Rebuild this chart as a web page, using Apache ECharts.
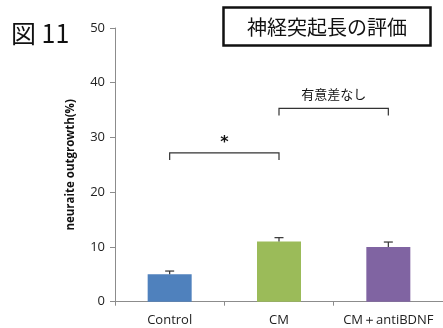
<!DOCTYPE html>
<html>
<head>
<meta charset="utf-8">
<script src="https://cdn.jsdelivr.net/npm/echarts@6/dist/echarts.min.js"></script>
<style>
  html, body { margin: 0; padding: 0; background: #fff; }
  #chart { width: 443px; height: 328px; }
</style>
</head>
<body>
<div id="chart"></div>
<script>
// Groups and mean neurite outgrowth (%) with error (upper bound)
var categories = ['Control', 'CM', 'CM＋antiBDNF'];
var means = [5.0, 11.0, 10.0];
var errorTops = [5.6, 11.7, 10.9];
var barColors = ['#4F81BD', '#9BBB59', '#8064A2'];
var yTicks = [0, 10, 20, 30, 40, 50];

// Significance brackets: [from category, to category, bar height, leg bottom, label]
var bracketFrom = [0, 1];
var bracketTo = [1, 2];
var bracketTop = [27.2, 35.3];
var bracketLeg = [25.9, 34.0];
var bracketLabels = ['*', '有意差なし'];

var chart = echarts.init(document.getElementById('chart'));

var barData = means.map(function (v, i) {
  return { value: v, itemStyle: { color: barColors[i] } };
});
var errData = means.map(function (v, i) { return [i, v, errorTops[i]]; });
var bracketData = bracketFrom.map(function (f, i) {
  return [f, bracketTo[i], bracketTop[i], bracketLeg[i], bracketLabels[i]];
});

chart.setOption({
  animation: false,
  grid: { left: 115, top: 28, width: 330, height: 273.7, containLabel: false },
  xAxis: {
    type: 'category',
    data: categories,
    boundaryGap: true,
    axisLine: { lineStyle: { color: '#8c8c8c', width: 1 } },
    axisTick: { show: true, length: 4, lineStyle: { color: '#8c8c8c' } },
    axisLabel: { color: '#222', fontSize: 13, fontFamily: 'Open Sans', margin: 12, interval: 0, hideOverlap: false }
  },
  yAxis: {
    type: 'value',
    min: yTicks[0],
    max: yTicks[yTicks.length - 1],
    interval: 10,
    name: 'neuraite outgrowth(%)',
    nameLocation: 'middle',
    nameRotate: 90,
    nameGap: 38,
    nameTextStyle: { color: '#111', fontSize: 11.5, fontWeight: 'bold', fontFamily: 'Open Sans' },
    axisLine: { show: true, lineStyle: { color: '#8c8c8c', width: 1 } },
    axisTick: { show: true, length: 5, lineStyle: { color: '#8c8c8c' } },
    axisLabel: { color: '#222', fontSize: 13, fontFamily: 'Open Sans', margin: 10 },
    splitLine: { show: false }
  },
  series: [
    {
      type: 'bar',
      data: barData,
      barWidth: 44,
      itemStyle: { borderWidth: 0 }
    },
    {
      type: 'custom',
      data: errData,
      z: 5,
      renderItem: function (params, api) {
        var base = api.coord([api.value(0), api.value(1)]);
        var top = api.coord([api.value(0), api.value(2)]);
        var half = 4.5;
        var st = { stroke: '#333', lineWidth: 1.2 };
        return {
          type: 'group',
          children: [
            { type: 'line', shape: { x1: base[0], y1: base[1], x2: top[0], y2: top[1] }, style: st },
            { type: 'line', shape: { x1: top[0] - half, y1: top[1], x2: top[0] + half, y2: top[1] }, style: st }
          ]
        };
      }
    },
    {
      type: 'custom',
      data: bracketData,
      z: 5,
      renderItem: function (params, api) {
        var a = api.coord([api.value(0), api.value(2)]);
        var b = api.coord([api.value(1), api.value(2)]);
        var legA = api.coord([api.value(0), api.value(3)]);
        var label = bracketLabels[params.dataIndex];
        var st = { stroke: '#333', lineWidth: 1.2, fill: null };
        var star = label === '*';
        return {
          type: 'group',
          children: [
            {
              type: 'polyline',
              shape: { points: [[a[0], legA[1]], [a[0], a[1]], [b[0], b[1]], [b[0], legA[1]]] },
              style: st
            },
            {
              type: 'text',
              style: {
                x: (a[0] + b[0]) / 2,
                y: a[1] - (star ? 2 : 8),
                text: label,
                textAlign: 'center',
                textVerticalAlign: 'bottom',
                fill: '#111',
                font: star ? 'bold 16px "DejaVu Sans"' : '13px "Noto Sans CJK JP"'
              }
            }
          ]
        };
      }
    }
  ],
  graphic: [
    {
      type: 'text',
      left: 11,
      top: 21,
      style: { text: '図 11', fill: '#111', font: '25px "Noto Sans CJK JP"' }
    },
    {
      type: 'rect',
      shape: { x: 223.5, y: 7.5, width: 207, height: 38 },
      style: { fill: '#fff', stroke: '#111', lineWidth: 2.5 }
    },
    {
      type: 'text',
      x: 327,
      y: 27,
      style: {
        text: '神経突起長の評価',
        textAlign: 'center',
        textVerticalAlign: 'middle',
        fill: '#111',
        font: '20px "Noto Sans CJK JP"'
      }
    }
  ]
});
</script>
</body>
</html>
